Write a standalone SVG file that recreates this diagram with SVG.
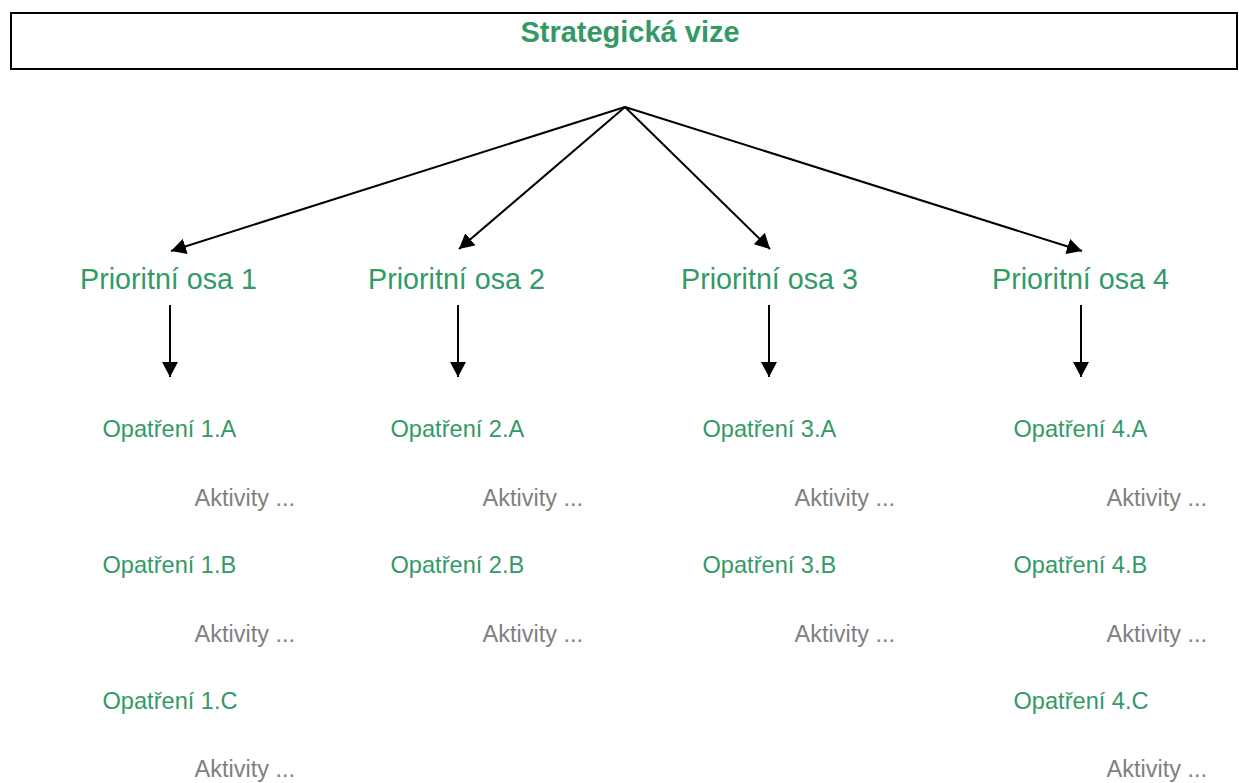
<svg xmlns="http://www.w3.org/2000/svg" width="1239" height="783" viewBox="0 0 1239 783">
<style>
text{font-family:"Liberation Sans",Arial,sans-serif}
.title{font-size:29px;font-weight:bold;fill:#339966}
.osa{font-size:28.7px;fill:#339966}
.op{font-size:23.6px;fill:#339966}
.ak{font-size:23.5px;fill:#808080}
.con line{stroke:#000;stroke-width:2;marker-end:url(#ah)}
</style>
<defs>
<marker id="ah" markerUnits="userSpaceOnUse" markerWidth="16" markerHeight="16" viewBox="0 0 16 16" refX="15" refY="8" orient="auto">
<path d="M0,0 L15,8 L0,16 Z" fill="#000"/>
</marker>
</defs>
<rect width="1239" height="783" fill="#fff"/>
<g id="vize">
<rect x="11" y="13" width="1226" height="56" fill="#fff" stroke="#000" stroke-width="2"/>
<text class="title" x="630" y="42" text-anchor="middle">Strategická vize</text>
</g>
<g class="con" id="connectors">
<line x1="625" y1="107" x2="171" y2="251"/>
<line x1="625" y1="107" x2="459" y2="249"/>
<line x1="625" y1="107" x2="770" y2="249"/>
<line x1="625" y1="107" x2="1082" y2="251"/>
<line x1="170" y1="305" x2="170" y2="377"/>
<line x1="458" y1="305" x2="458" y2="377"/>
<line x1="769" y1="305" x2="769" y2="377"/>
<line x1="1081" y1="305" x2="1081" y2="377"/>
</g>
<g id="osa1">
<text class="osa" x="80" y="289">Prioritní osa 1</text>
</g>
<g id="osa2">
<text class="osa" x="368" y="289">Prioritní osa 2</text>
</g>
<g id="osa3">
<text class="osa" x="681" y="289">Prioritní osa 3</text>
</g>
<g id="osa4">
<text class="osa" x="992" y="289">Prioritní osa 4</text>
</g>
<g id="col1">
<text class="op" x="102.5" y="436.5">Opatření 1.A</text>
<text class="ak" x="194.5" y="506">Aktivity ...</text>
<text class="op" x="102.5" y="572.5">Opatření 1.B</text>
<text class="ak" x="194.5" y="641.5">Aktivity ...</text>
<text class="op" x="102.5" y="708.5">Opatření 1.C</text>
<text class="ak" x="194.5" y="776.5">Aktivity ...</text>
</g>
<g id="col2">
<text class="op" x="390.5" y="436.5">Opatření 2.A</text>
<text class="ak" x="482.5" y="506">Aktivity ...</text>
<text class="op" x="390.5" y="572.5">Opatření 2.B</text>
<text class="ak" x="482.5" y="641.5">Aktivity ...</text>
</g>
<g id="col3">
<text class="op" x="702.5" y="436.5">Opatření 3.A</text>
<text class="ak" x="794.5" y="506">Aktivity ...</text>
<text class="op" x="702.5" y="572.5">Opatření 3.B</text>
<text class="ak" x="794.5" y="641.5">Aktivity ...</text>
</g>
<g id="col4">
<text class="op" x="1013.5" y="436.5">Opatření 4.A</text>
<text class="ak" x="1106.5" y="506">Aktivity ...</text>
<text class="op" x="1013.5" y="572.5">Opatření 4.B</text>
<text class="ak" x="1106.5" y="641.5">Aktivity ...</text>
<text class="op" x="1013.5" y="708.5">Opatření 4.C</text>
<text class="ak" x="1106.5" y="776.5">Aktivity ...</text>
</g>
</svg>
